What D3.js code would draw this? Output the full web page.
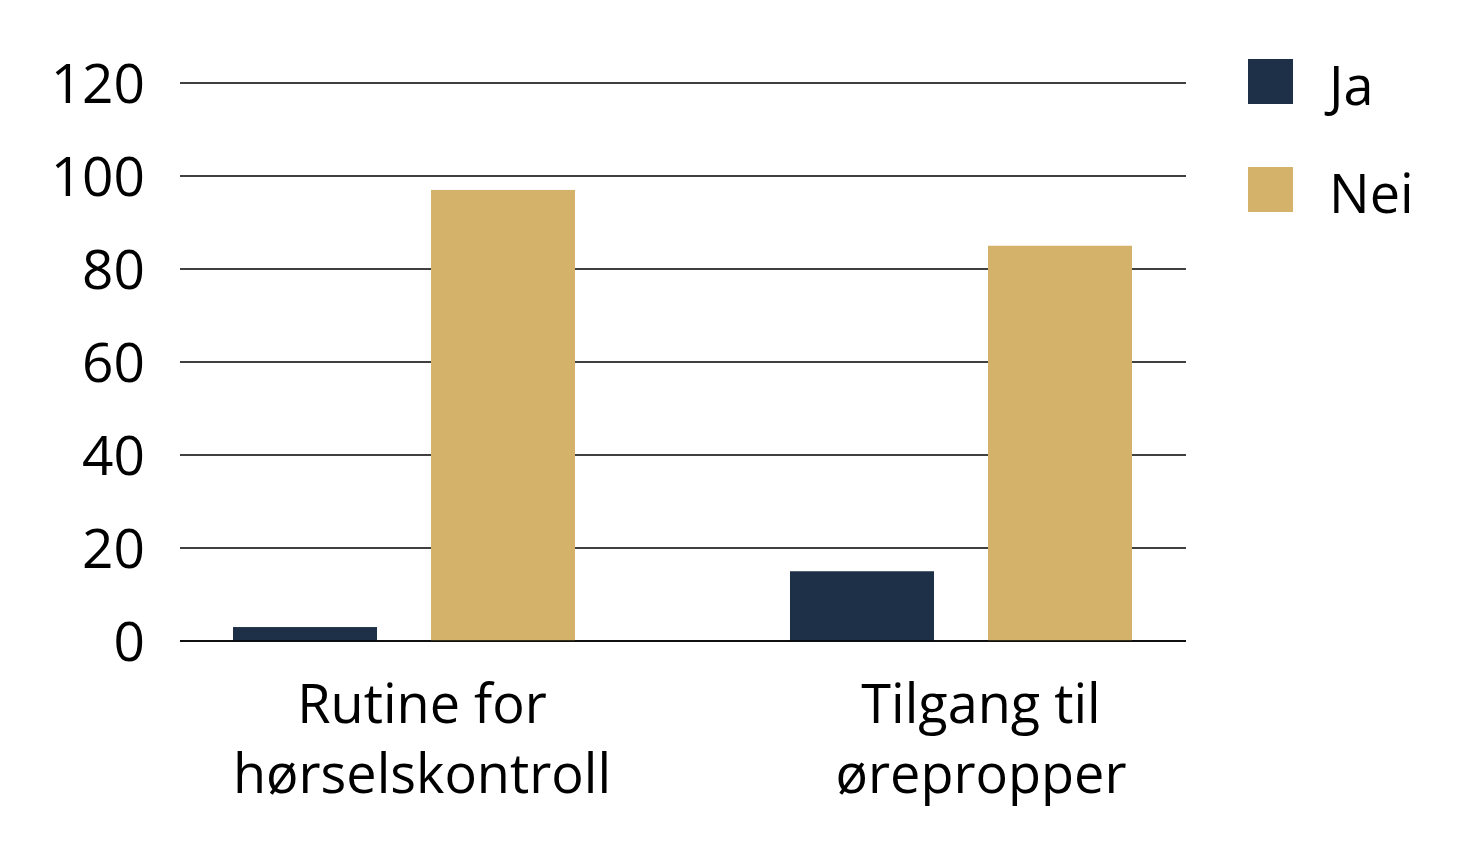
<!DOCTYPE html>
<html><head><meta charset="utf-8">
<script src="https://cdn.jsdelivr.net/npm/d3@7"></script>
<style>html,body{margin:0;padding:0;background:#fff;}svg{display:block;font-family:"Open Sans","Noto Sans",sans-serif;}</style>
</head><body>
<svg id="chart" width="1465" height="846"></svg>
<script>
const categories = [["Rutine for","hørselskontroll"],["Tilgang til","ørepropper"]];
const seriesNames = ["Ja","Nei"];
const jaValues = [3, 15];
const neiValues = [97, 85];
const yTicks = [0,20,40,60,80,100,120];
const colors = {Ja:"#1E3048", Nei:"#D4B26A"};

const svg = d3.select("#chart");
const catKeys = categories.map(c => c.join(" "));
const data = catKeys.map((k,i) => ({cat:k, Ja:jaValues[i], Nei:neiValues[i]}));

const y = d3.scaleLinear().domain([0,120]).range([641,83]);
const x0 = d3.scaleBand().domain(catKeys).range([125.5,1239.5]).padding(0);
const x1 = d3.scaleBand().domain(seriesNames).range([107.5,449.5]).paddingInner(0.2727).paddingOuter(0);

// gridlines
svg.append("g").selectAll("line").data(yTicks).join("line")
  .attr("x1",180).attr("x2",1186)
  .attr("y1",d=>y(d)).attr("y2",d=>y(d))
  .attr("stroke","#000").attr("stroke-width",1.6);

// tick labels
svg.append("g").selectAll("text").data(yTicks).join("text")
  .attr("x",145).attr("y",d=>y(d)).attr("dy","0.36em")
  .attr("text-anchor","end").attr("font-size",55).attr("fill","#000")
  .text(d=>d);

// bars
const g = svg.append("g").selectAll("g").data(data).join("g")
  .attr("transform",d=>`translate(${x0(d.cat)},0)`);
g.selectAll("rect").data(d=>seriesNames.map(s=>({s, v:d[s]}))).join("rect")
  .attr("x",d=>x1(d.s)).attr("width",x1.bandwidth())
  .attr("y",d=>y(d.v)).attr("height",d=>y(0)-y(d.v))
  .attr("fill",d=>colors[d.s]);

// redraw baseline on top
svg.append("line").attr("x1",180).attr("x2",1186).attr("y1",y(0)).attr("y2",y(0))
  .attr("stroke","#000").attr("stroke-width",1.6);

// category labels
const labelOffsets = [18, 20];
svg.append("g").selectAll("text").data(categories).join("text")
  .attr("text-anchor","middle").attr("font-size",54).attr("fill","#000")
  .each(function(c,i){
    const cx = x0(catKeys[i]) + (x1.range()[0]+x1.range()[1])/2 + labelOffsets[i];
    d3.select(this).selectAll("tspan").data(c).join("tspan")
      .attr("x",cx).attr("y",(d,j)=>723 + j*70).text(d=>d);
  });

// legend
const leg = svg.append("g").selectAll("g").data(seriesNames).join("g")
  .attr("transform",(d,i)=>`translate(1248,${59 + i*108})`);
leg.append("rect").attr("width",45).attr("height",45).attr("fill",d=>colors[d]);
leg.append("text").attr("x",81).attr("y",46).attr("font-size",54).attr("fill","#000").text(d=>d);
</script>
</body></html>
